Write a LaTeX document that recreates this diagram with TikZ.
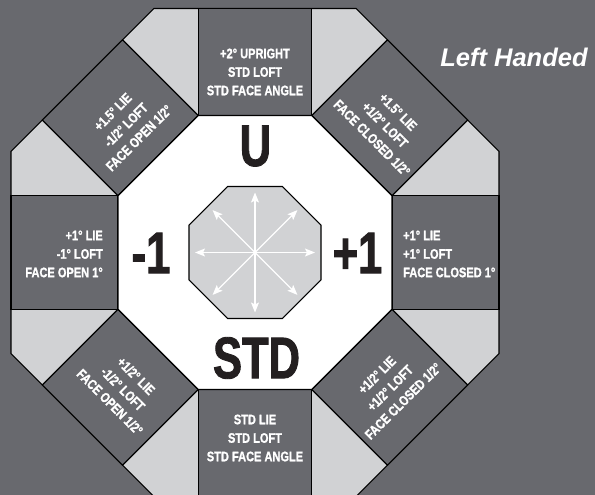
\documentclass[tikz,border=0pt]{standalone}
\usepackage{fontspec}
\setmainfont{Liberation Sans}
\newfontfamily\condfont[FakeStretch=0.8, BoldFeatures={FakeBold=1.3}]{Liberation Sans}
\newfontfamily\bigcondfont[FakeStretch=0.74, BoldFeatures={FakeBold=1.5}]{Liberation Sans}
\usetikzlibrary{arrows.meta}
\definecolor{darkbg}{RGB}{104,105,110}
\definecolor{lightg}{RGB}{209,210,212}
\definecolor{inkblack}{RGB}{35,31,32}
\tikzset{
  edgeline/.style={draw=black, line width=1.1pt, line join=miter},
  ringbox/.style={edgeline, fill=darkbg},
  boxtext/.style={text=white, font=\condfont\bfseries\fontsize{13.8}{18.5}\selectfont, inner sep=0pt, align=center},
  bigtext/.style={text=inkblack, font=\bigcondfont\bfseries\fontsize{58.7}{60}\selectfont, inner sep=0pt},
  dirarrow/.style={draw=white, line width=1.2pt, -{Stealth[length=10pt,width=8pt,inset=2pt]}},
}
\begin{document}
\begin{tikzpicture}[x=1pt,y=-1pt]
\useasboundingbox (0,0) rectangle (595,495);
\fill[darkbg] (0,0) rectangle (595,495);
\coordinate (c) at (255,252.5);
\begin{scope}[shift={(c)}]
  % outer octagon
  \draw[edgeline, fill=lightg] (22.5:264.1) \foreach \a in {67.5,112.5,...,337.5} {-- (\a:264.1)} -- cycle;
  % ring boxes
  \foreach \k in {0,...,7}
    \draw[ringbox, rotate=45*\k] (-56.75,137) -- (56.75,137) -- (56.75,244) -- (-56.75,244) -- cycle;
  % inner white octagon
  \draw[edgeline, fill=white] (22.5:148.29) \foreach \a in {67.5,112.5,...,337.5} {-- (\a:148.29)} -- cycle;
  % central small octagon
  \draw[edgeline, fill=lightg] (22.5:71.44) \foreach \a in {67.5,112.5,...,337.5} {-- (\a:71.44)} -- cycle;
\end{scope}
\foreach \a in {0,45,...,315}
  \draw[dirarrow] (c) -- ++(\a:60);

% box texts
\node[boxtext] (top) at (255,72) {+2° UPRIGHT\\STD LOFT\\STD FACE ANGLE};
\node[boxtext] (bottom) at (255,438) {STD LIE\\STD LOFT\\STD FACE ANGLE};
\node[boxtext, align=right, anchor=east] (left) at (103,254) {+1° LIE\\-1° LOFT\\FACE OPEN 1°};
\node[boxtext, align=left, anchor=west] (right) at (403,254) {+1° LIE\\+1° LOFT\\FACE CLOSED 1°};
\node[boxtext, rotate=45] (tl) at (126,125) {+1.5° LIE\\-1/2° LOFT\\FACE OPEN 1/2°};
\node[boxtext, rotate=-45] (tr) at (385,125) {+1.5° LIE\\+1/2° LOFT\\FACE CLOSED 1/2°};
\node[boxtext, rotate=-45] (bl) at (123,389) {+1/2° LIE\\-1/2° LOFT\\FACE OPEN 1/2°};
\node[boxtext, rotate=45] (br) at (390,388) {+1/2° LIE\\+1/2° LOFT\\FACE CLOSED 1/2°};

% big labels
\node[bigtext] (u) at (255.5,146) {U};
\node[bigtext] (std) at (256.5,358) {STD};
\node[bigtext] (minus) at (151,253) {-1};
\node[bigtext] (plus) at (357.5,253) {+1};

\node[text=white, font=\bfseries\itshape\fontsize{25.5}{28}\selectfont, inner sep=0pt] (hand) at (514,57) {Left Handed};
\end{tikzpicture}
\end{document}
